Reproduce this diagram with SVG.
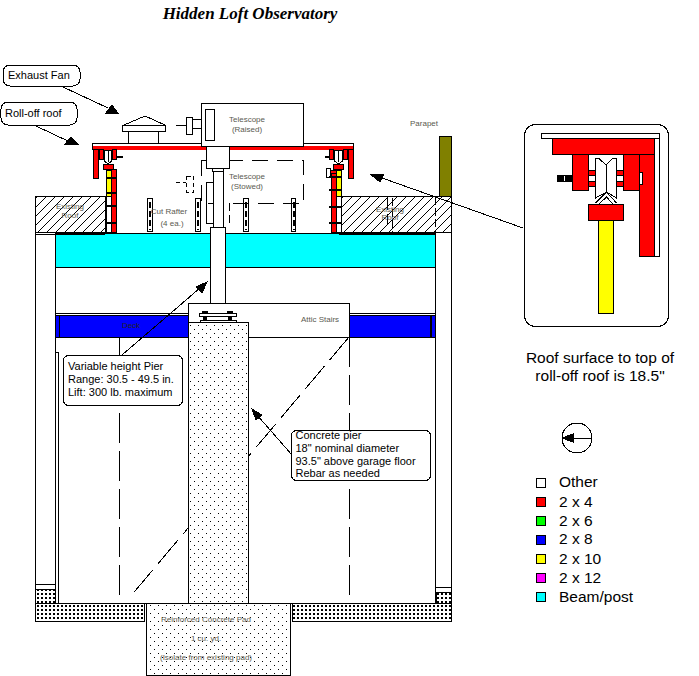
<svg xmlns="http://www.w3.org/2000/svg" width="699" height="676" viewBox="0 0 699 676">
<style>
*{shape-rendering:crispEdges}
text{font-family:"Liberation Sans",Arial,sans-serif}
.k{stroke:#000;stroke-width:1}
.w{fill:#fff;stroke:#000;stroke-width:1}
.r{fill:#f00;stroke:#000;stroke-width:1}
.y{fill:#ff0;stroke:#000;stroke-width:1}
.n{fill:none;stroke:#000;stroke-width:1}
.d{fill:none;stroke:#000;stroke-width:1;stroke-dasharray:30 8}
.s{font-size:8px;fill:#5a5a50;text-anchor:middle}
.c{font-size:11px;fill:#000}
.l{font-size:15.5px;fill:#000}
.bar{stroke:#000;stroke-width:2}
.head{fill:#000;stroke:#000;stroke-width:1}
.t{fill:#000}
</style>
<defs>
<pattern id="dots" width="8" height="8" patternUnits="userSpaceOnUse"><rect width="8" height="8" fill="#fff"/><rect x="2" y="1" width="1" height="1" fill="#000"/><rect x="6" y="5" width="1" height="1" fill="#000"/></pattern>
<pattern id="dense" width="4" height="4" patternUnits="userSpaceOnUse"><rect width="4" height="4" fill="#fff"/><rect x="1" y="1" width="2" height="2" fill="#000"/></pattern>
<pattern id="hatch" width="9" height="9" patternUnits="userSpaceOnUse"><rect width="9" height="9" fill="#fff"/><path d="M0 9L9 0" stroke="#000" stroke-width="1"/></pattern>
</defs>
<rect width="699" height="676" fill="#fff"/>
<text id="title" x="250" y="19" text-anchor="middle" style="font-family:'Liberation Serif',serif;font-style:italic;font-weight:bold;font-size:17px">Hidden Loft Observatory</text>

<g id="building">
<path class="n" d="M35.500 232V603M55.500 232V603M435.500 232V603M451.500 232V603M35 584.500H55M35 589.500H55M435 587.500H451M435 592.500H451"/>
<path class="n" d="M55 352.500H58.500V603"/>
<rect x="35.500" y="589.500" width="20" height="14" fill="url(#dense)" stroke="#000"/>
<rect x="436" y="592.500" width="15.500" height="11" fill="url(#dense)" stroke="#000"/>
<rect x="55.500" y="233.500" width="380" height="34" fill="#0ff" stroke="#000"/>
<path class="n" d="M55 313.500H435"/>
<rect x="55.500" y="315.500" width="380" height="22" fill="#00f" stroke="#000"/>
<path class="n" d="M59.500 316V337"/>
<path d="M431 316V337" stroke="#000" stroke-width="2"/>
<text x="131" y="328" text-anchor="middle" font-size="8" fill="#222">Deck</text>
<path class="n" d="M55 603.500H435"/>
<rect x="35.500" y="603.500" width="109" height="18" fill="url(#dense)" stroke="#000"/>
<rect x="292.500" y="603.500" width="159" height="18" fill="url(#dense)" stroke="#000"/>
</g>
<g id="existing-roof">
<rect x="35.500" y="196.500" width="70" height="36" fill="url(#hatch)" stroke="#000"/>
<rect x="337.500" y="196.500" width="114" height="36" fill="url(#hatch)" stroke="#000"/>
<path class="n" d="M35 234.500H105M339 234.500H435"/>
<path class="n" d="M435.500 197V232M392.500 198V232" style="stroke-dasharray:8 3"/>
<path class="n" d="M387.500 198V224" style="stroke-dasharray:12 4"/>
<text class="s" x="70" y="209">Existing</text><text class="s" x="70" y="218">Roof</text>
<text class="s" x="390" y="212">Existing</text><text class="s" x="390" y="220">Roof</text>
</g>
<g id="parapet"><rect x="439.500" y="136.500" width="12" height="60" fill="#808000" stroke="#000"/><text class="s" x="424" y="126">Parapet</text></g>
<g id="rafters">
<rect class="w" x="147.500" y="198.500" width="5" height="33"/><rect class="w" x="195.500" y="198.500" width="5" height="33"/><rect class="w" x="243.500" y="198.500" width="5" height="33"/><rect class="w" x="291.500" y="198.500" width="4" height="33"/>
<path d="M150 202V230M198 202V230M246 202V230M293.500 202V230" fill="none" stroke="#000" stroke-width="2" stroke-dasharray="6 3"/>
<text class="s" x="169" y="214">Cut Rafter</text><text class="s" x="172" y="226">(4 ea.)</text>
</g>
<g id="roll-off-roof">
<rect class="w" x="92.500" y="143.500" width="261" height="6"/>
<rect x="93" y="145.500" width="260" height="4.500" fill="#f00"/>
<rect class="r" x="93.500" y="149.500" width="5" height="29"/><rect class="r" x="99.500" y="149.500" width="4" height="10"/><rect class="r" x="112.500" y="149.500" width="4" height="10"/>
<rect class="r" x="348.500" y="149.500" width="5" height="29"/><rect class="r" x="343.500" y="149.500" width="4" height="10"/><rect class="r" x="329.500" y="149.500" width="4" height="10"/>
<path class="w" d="M104.500 150.500H111.500V161L108 164L104.500 161Z"/><path class="w" d="M334.500 150.500H342.500V161L338.500 164L334.500 161Z"/>
<path class="n" d="M108 151V162M338.500 151V162"/>
<path d="M117 157H123M325 157H329" stroke="#000" stroke-width="2"/>
<rect class="y" x="106.500" y="170.500" width="5" height="26"/><rect class="y" x="336.500" y="170.500" width="5" height="26"/>
<rect class="w" x="106.500" y="196.500" width="5" height="36"/><rect class="w" x="336.500" y="196.500" width="5" height="36"/>
<rect class="r" x="111.500" y="169.500" width="5" height="63"/><rect class="r" x="331.500" y="173.500" width="5" height="59"/>
<rect class="w" x="326.500" y="168.500" width="4" height="9"/>
<rect class="r" x="330.500" y="170.500" width="6" height="3"/>
<rect class="r" x="103.500" y="164.500" width="10" height="5"/><rect class="r" x="333.500" y="164.500" width="10" height="5"/>
<path class="bar" d="M106 178H117M106 193H117M106 206H117M106 223H117M329 177H342M329 190H342M329 207H342M329 223H342"/>
</g>
<g id="stored-telescope">
<path class="n" d="M201.500 160.500H303.500V203.500H201.500Z" style="stroke-dasharray:16 9"/>
<path class="n" d="M206.500 182V223H213M206.500 182H213"/>
<path class="n" d="M229.500 203V223" style="stroke-dasharray:8 4"/>
<path class="n" d="M176 182.500H186M186.500 176H193.500V192H186.500Z" style="stroke-dasharray:4 3"/>
<text class="s" x="247" y="179">Telescope</text><text class="s" x="247" y="189">(Stowed)</text>
</g>
<g id="exhaust-fan">
<path class="n" d="M124 125L145 116L165 125"/><rect class="w" x="122.500" y="125.500" width="43" height="6"/><path class="n" d="M128.500 131V143M158.500 131V143"/>
</g>
<g id="pier">
<rect class="w" x="210.500" y="227.500" width="15" height="86"/>
<rect class="w" x="213.500" y="171.500" width="10" height="56"/>
<rect class="w" x="212.500" y="168.500" width="11" height="3"/>
<rect class="w" x="206.500" y="146.500" width="23" height="22"/>
</g>
<g id="raised-telescope">
<rect class="w" x="201.500" y="103.500" width="102" height="43"/><rect class="w" x="205.500" y="109.500" width="9" height="31"/>
<path class="n" d="M176 125.500H186M193 119.500H201M193 128.500H201"/><rect class="w" x="186.500" y="117.500" width="6" height="17"/>
<text class="s" x="247" y="122">Telescope</text><text class="s" x="247" y="132">(Raised)</text>
</g>
<g id="attic-stairs">
<path class="w" d="M188.500 303.500H349.500V337.500H248V322.500H188.500Z"/>
<text class="s" x="320" y="322">Attic Stairs</text>
<path class="d" d="M119.500 337V603M349.500 337V603"/>
<path class="d" d="M349 337L130 597"/>
</g>
<g id="concrete-pier">
<rect x="188.500" y="322.500" width="59.500" height="281" fill="url(#dots)" stroke="#000"/>
<rect class="w" x="200.500" y="320" width="36" height="2.500"/><rect class="w" x="199.500" y="313.500" width="37" height="3"/>
<path class="t" d="M202 311H208V314H202ZM227 311H233V314H227ZM203 317H207V320H203ZM228 317H232V320H228Z"/>
</g>
<g id="pad">
<rect x="146.500" y="603.500" width="144" height="72" fill="url(#dots)" stroke="#000"/>
<text class="s" x="206" y="622">Reinforced Concrete Pad</text><text class="s" x="206" y="641">1 cu. yd.</text><text class="s" x="206" y="660">(Isolate from existing pad)</text>
</g>
<g id="connectors">
<path class="n" d="M63 87L108 108"/><path class="head" d="M118 113H106L112 105Z"/>
<path class="n" d="M36 126L70 142"/><path class="head" d="M78 144H65L71 137Z"/>
<path class="n" d="M122 355L200 288"/><path class="head" d="M207 282L196 287L202 293Z"/>
<path class="n" d="M292 455L257 415"/><path class="head" d="M252 409L262 415L256 420Z"/>
<path class="n" d="M523 228L382 178"/><path class="head" d="M370 174H384L380 182Z"/>
</g>
<g id="label-fan"><rect class="w" x="3" y="65" width="77" height="21" rx="7"/><text class="c" x="8" y="79">Exhaust Fan</text></g>
<g id="label-roof"><rect class="w" x="1" y="102" width="76" height="23" rx="7"/><text class="c" x="5" y="117">Roll-off roof</text></g>
<g id="label-pier"><rect class="w" x="63.500" y="355.500" width="119" height="50" rx="5"/><text class="c" x="68" y="370">Variable height Pier</text><text class="c" x="68" y="383">Range: 30.5 - 49.5 in.</text><text class="c" x="68" y="396">Lift: 300 lb. maximum</text></g>
<g id="label-concrete"><rect class="w" x="291.500" y="430.500" width="139" height="50" rx="5"/><text class="c" x="295.500" y="439">Concrete pier</text><text class="c" x="295.500" y="452">18" nominal diameter</text><text class="c" x="295.500" y="465">93.5" above garage floor</text><text class="c" x="295.500" y="477">Rebar as needed</text></g>
<g id="inset">
<rect x="524.500" y="124.500" width="144" height="202" rx="11" fill="#fff" stroke="#000"/>
<rect class="w" x="541.500" y="133.500" width="118" height="5"/>
<rect class="w" x="654.500" y="138.500" width="5" height="118"/>
<rect class="r" x="552.500" y="138.500" width="102" height="16"/>
<rect class="r" x="572.500" y="154.500" width="16" height="36"/><rect class="r" x="623.500" y="154.500" width="16" height="36"/>
<rect class="r" x="639.500" y="154.500" width="15" height="102"/>
<rect class="w" x="639.500" y="172.500" width="3" height="12"/>
<rect class="r" x="588.500" y="170.500" width="7" height="5"/><rect class="r" x="588.500" y="181.500" width="7" height="5"/><rect class="r" x="616.500" y="170.500" width="7" height="5"/><rect class="r" x="616.500" y="181.500" width="7" height="5"/>
<rect x="557" y="175" width="15" height="7" fill="#000"/><rect x="564" y="176" width="1" height="5" fill="#fff"/>
<path class="w" d="M595.500 158.500H599L606 165L612.500 158.500H616.500V198L606.500 192L595.500 198Z"/><path class="n" d="M606.500 165V192M595.500 203L606.500 192L616.500 203M599 204L606.500 197L613 204"/>
<rect class="y" x="598.500" y="220.500" width="15" height="93"/>
<rect class="r" x="588.500" y="204.500" width="35" height="16"/>
</g>
<g id="caption"><text class="l" x="600" y="363" text-anchor="middle">Roof surface to top of</text><text class="l" x="600" y="381" text-anchor="middle">roll-off roof is 18.5"</text></g>
<g id="north"><circle class="n" cx="577" cy="438" r="15"/><path class="n" d="M592 438.500H562"/><path d="M561 438L574 433V443Z"/></g>
<g id="legend">
<rect class="k" x="536.500" y="478.500" width="9" height="9" fill="#fff"/><text class="l" x="559" y="487">Other</text>
<rect class="k" x="536.500" y="497.500" width="9" height="9" fill="#f00"/><text class="l" x="559" y="507">2 x 4</text>
<rect class="k" x="536.500" y="516.500" width="9" height="9" fill="#0f0"/><text class="l" x="559" y="526">2 x 6</text>
<rect class="k" x="536.500" y="535.500" width="9" height="9" fill="#00f"/><text class="l" x="559" y="544">2 x 8</text>
<rect class="k" x="536.500" y="554.500" width="9" height="9" fill="#ff0"/><text class="l" x="559" y="564">2 x 10</text>
<rect class="k" x="536.500" y="573.500" width="9" height="9" fill="#f0f"/><text class="l" x="559" y="583">2 x 12</text>
<rect class="k" x="536.500" y="592.500" width="9" height="9" fill="#0ff"/><text class="l" x="559" y="602">Beam/post</text>
</g>
</svg>
